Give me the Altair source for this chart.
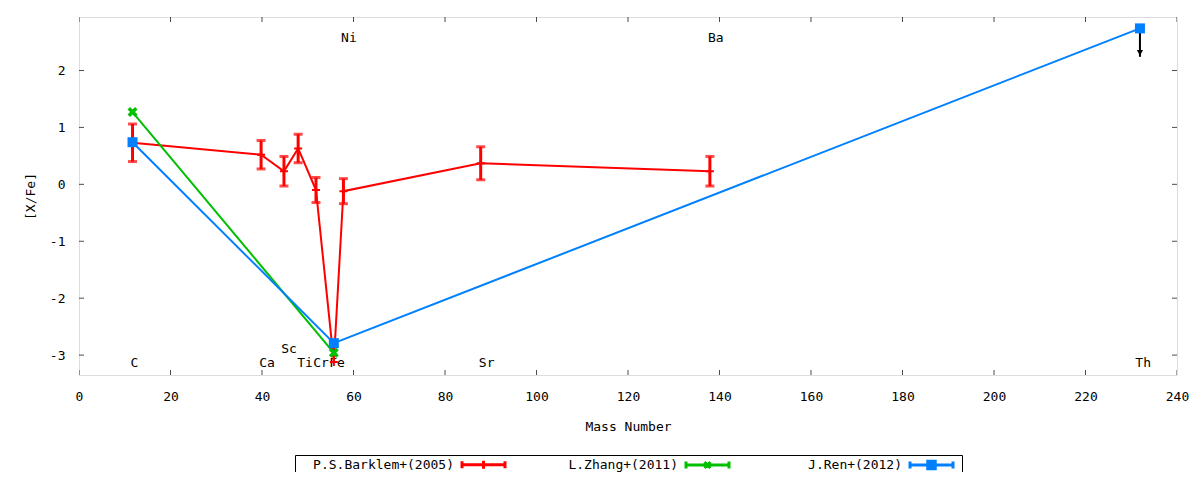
import altair as alt
import pandas as pd

# ---------------- data ----------------
series_names = ["P.S.Barklem+(2005)", "L.Zhang+(2011)", "J.Ren+(2012)"]
series_colors = ["#ff0000", "#00c000", "#0080ff"]

barklem_elem = ["C", "Ca", "Sc", "Ti", "Cr", "Fe", "Ni", "Sr", "Ba"]
barklem_mass = [11.7, 39.8, 44.8, 47.9, 51.8, 55.7, 57.8, 87.8, 137.9]
barklem_val = [0.73, 0.52, 0.23, 0.63, -0.10, -3.12, -0.12, 0.37, 0.23]
barklem_err = [0.33, 0.25, 0.26, 0.25, 0.22, 0.0, 0.22, 0.29, 0.26]

zhang_elem = ["C", "Fe"]
zhang_mass = [11.7, 55.7]
zhang_val = [1.27, -2.96]

ren_elem = ["C", "Fe", "Th"]
ren_mass = [11.7, 55.7, 231.9]
ren_val = [0.74, -2.79, 2.74]
ren_upper_limit = [False, False, True]
limit_arrow_len = 0.5

label_text = ["C", "Ca", "Sc", "Ti", "Cr", "Fe", "Ni", "Sr", "Ba", "Th"]
label_mass = [12.1, 41.1, 45.9, 49.4, 52.9, 56.4, 59.0, 89.1, 139.2, 232.6]
label_val = [-3.14, -3.14, -2.90, -3.14, -3.14, -3.14, 2.57, -3.14, 2.57, -3.14]

x_ticks = list(range(0, 241, 20))
y_ticks = [-3, -2, -1, 0, 1, 2]
x_domain = [0, 240]
y_domain = [-3.35, 2.94]

# ---------------- frames ----------------
bark = pd.DataFrame({"elem": barklem_elem, "mass": barklem_mass, "val": barklem_val, "err": barklem_err})
bark["lo"] = bark["val"] - bark["err"]
bark["hi"] = bark["val"] + bark["err"]
bark_err = bark[bark["err"] > 0]
zhang = pd.DataFrame({"elem": zhang_elem, "mass": zhang_mass, "val": zhang_val})
ren = pd.DataFrame({"elem": ren_elem, "mass": ren_mass, "val": ren_val, "ul": ren_upper_limit})
ren_ul = ren[ren["ul"]].copy()
ren_ul["tip"] = ren_ul["val"] - limit_arrow_len
ren_ul["head"] = ren_ul["val"] - limit_arrow_len * 0.86
labels = pd.DataFrame({"text": label_text, "mass": label_mass, "val": label_val})
legend_df = pd.DataFrame({"series": series_names, "mass": [0, 0, 0], "val": [0, 0, 0]})
xt = pd.DataFrame({"t": x_ticks})
yt = pd.DataFrame({"t": y_ticks})

W, H = 1098, 358
FONT = "DejaVu Sans Mono"

xs = alt.Scale(domain=x_domain, nice=False, zero=False)
ys = alt.Scale(domain=y_domain, nice=False, zero=False)
xaxis = alt.Axis(title="Mass Number", values=x_ticks, ticks=False, domain=False, grid=False,
                 labelPadding=15, titlePadding=17, labelFlush=False, labelOverlap=False)
yaxis = alt.Axis(title="[X/Fe]", values=y_ticks, ticks=False, domain=False, grid=False,
                 labelPadding=14, titlePadding=12, labelExpr="'' + datum.value")

X = alt.X("mass:Q", scale=xs, axis=xaxis)
Y = alt.Y("val:Q", scale=ys, axis=yaxis)

# labels (behind data)
txt = alt.Chart(labels).mark_text(font=FONT, fontSize=13, color="black", baseline="middle").encode(
    x=X, y=Y, text="text:N")

# Barklem
red = series_colors[0]
bark_line = alt.Chart(bark).mark_line(color=red, strokeWidth=2).encode(x=X, y=Y)
bark_bar = alt.Chart(bark_err).mark_rule(color=red, strokeWidth=3).encode(
    x=X, y=alt.Y("lo:Q", scale=ys, axis=yaxis), y2="hi:Q")
bark_cap_lo = alt.Chart(bark_err).mark_tick(color=red, orient="horizontal", size=9, thickness=3).encode(
    x=X, y=alt.Y("lo:Q", scale=ys, axis=yaxis))
bark_cap_hi = alt.Chart(bark_err).mark_tick(color=red, orient="horizontal", size=9, thickness=3).encode(
    x=X, y=alt.Y("hi:Q", scale=ys, axis=yaxis))
bark_pts = alt.Chart(bark).mark_point(shape="M-1,0L1,0M0,-1L0,1", stroke=red, strokeWidth=2,
                                      size=64, opacity=1).encode(x=X, y=Y)

# Zhang
green = series_colors[1]
zhang_line = alt.Chart(zhang).mark_line(color=green, strokeWidth=2).encode(x=X, y=Y)
zhang_pts = alt.Chart(zhang).mark_point(shape="M-1,-1L1,1M-1,1L1,-1", stroke=green, strokeWidth=3.5,
                                        size=56, opacity=1).encode(x=X, y=Y)

# Ren
blue = series_colors[2]
ren_line = alt.Chart(ren).mark_line(color=blue, strokeWidth=2).encode(x=X, y=Y)
arrow = alt.Chart(ren_ul).mark_rule(color="black", strokeWidth=2).encode(
    x=X, y=Y, y2="tip:Q")
arrow_head = alt.Chart(ren_ul).mark_point(shape="triangle-down", filled=True, color="black",
                                          size=40, opacity=1).encode(
    x=X, y=alt.Y("head:Q", scale=ys, axis=yaxis))
ren_pts = alt.Chart(ren).mark_square(color=blue, size=100, opacity=1).encode(x=X, y=Y)

# inward mirrored ticks
xtick_b = alt.Chart(xt).mark_tick(color="black", orient="vertical", size=10, thickness=1, clip=True).encode(
    x=alt.X("t:Q", scale=xs, axis=xaxis), y=alt.value(H))
xtick_t = alt.Chart(xt).mark_tick(color="black", orient="vertical", size=10, thickness=1, clip=True).encode(
    x=alt.X("t:Q", scale=xs, axis=xaxis), y=alt.value(0))
ytick_l = alt.Chart(yt).mark_tick(color="black", orient="horizontal", size=10, thickness=1, clip=True).encode(
    y=alt.Y("t:Q", scale=ys, axis=yaxis), x=alt.value(0))
ytick_r = alt.Chart(yt).mark_tick(color="black", orient="horizontal", size=10, thickness=1, clip=True).encode(
    y=alt.Y("t:Q", scale=ys, axis=yaxis), x=alt.value(W))

# legend (driven by an empty layer with an explicit domain); symbol size 100 -> unit = 5 px
legend_paths = [
    "M-4.3,0L4.3,0M-4.3,-0.7L-4.3,0.7M4.3,-0.7L4.3,0.7M0,-0.8L0,0.8",
    "M-4.3,0L4.3,0M-4.3,-0.7L-4.3,0.7M4.3,-0.7L4.3,0.7M-0.6,-0.6L0.6,0.6M-0.6,0.6L0.6,-0.6",
    "M-4.3,0L4.3,0M-4.3,-0.7L-4.3,0.7M4.3,-0.7L4.3,0.7M-0.75,-0.75L0.75,-0.75L0.75,0.75L-0.75,0.75Z",
]
NB = "\u00a0" * 20
leg = alt.Legend(title=None, orient="none", legendX=216, legendY=438, direction="horizontal",
                 columns=3, columnPadding=11, strokeColor="black", padding=3,
                 labelAlign="right", labelOffset={"expr": "-36"}, symbolOffset=179,
                 labelFontSize=13, labelFont=FONT,
                 labelLimit=400, symbolSize=100, symbolStrokeWidth=3, symbolOpacity=1,
                 labelExpr="slice('" + NB + "' + datum.label, -20)")
legend_layer = alt.Chart(legend_df).transform_filter("false").mark_point(opacity=1).encode(
    x=X, y=Y,
    shape=alt.Shape("series:N", scale=alt.Scale(domain=series_names, range=legend_paths), legend=leg),
    fill=alt.Fill("series:N", scale=alt.Scale(domain=series_names, range=series_colors), legend=leg),
    stroke=alt.Stroke("series:N", scale=alt.Scale(domain=series_names, range=series_colors), legend=leg),
)

chart = alt.layer(
    txt, bark_line, bark_bar, bark_cap_lo, bark_cap_hi, bark_pts,
    zhang_line, zhang_pts, ren_line, arrow, arrow_head, ren_pts,
    xtick_b, xtick_t, ytick_l, ytick_r, legend_layer,
).properties(
    width=W, height=H,
    autosize=alt.AutoSizeParams(type="none"),
    padding={"left": 71, "top": 9, "right": 15, "bottom": 97},
).configure_view(
    stroke="black", strokeWidth=1
).configure(
    font=FONT
).configure_axis(
    labelFont=FONT, titleFont=FONT, labelFontSize=13, titleFontSize=13,
    titleFontWeight="normal", labelColor="black", titleColor="black"
).configure_legend(
    labelColor="black"
)

chart.save("out.html", embed_options={"renderer": "svg", "actions": False})
